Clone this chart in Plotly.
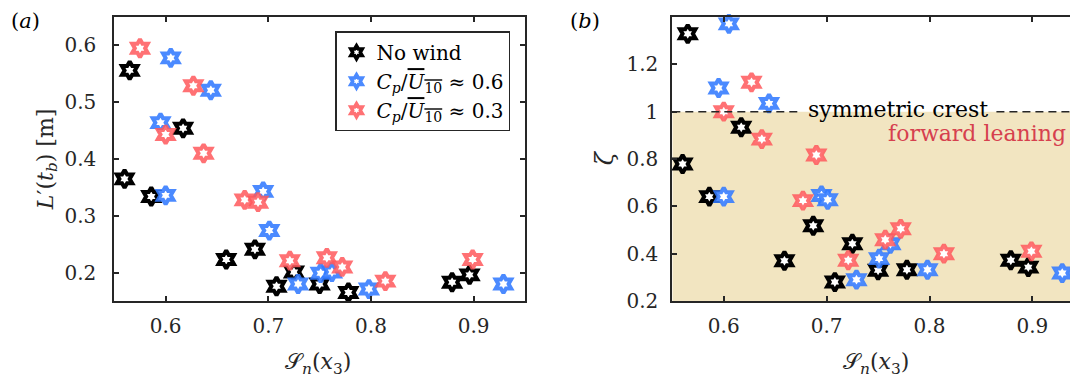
import plotly.graph_objects as go

# ---------------- data ----------------
sn_nowind = [0.565, 0.560, 0.586, 0.617, 0.659, 0.687, 0.708, 0.725, 0.750, 0.778, 0.879, 0.896]
L_nowind = [0.556, 0.365, 0.334, 0.454, 0.223, 0.241, 0.176, 0.201, 0.180, 0.165, 0.183, 0.196]
zeta_nowind = [1.329, 0.779, 0.641, 0.934, 0.370, 0.518, 0.280, 0.442, 0.330, 0.332, 0.372, 0.343]

sn_06 = [0.605, 0.644, 0.595, 0.600, 0.695, 0.701, 0.729, 0.751, 0.762, 0.798, 0.929]
L_06 = [0.578, 0.521, 0.464, 0.336, 0.343, 0.274, 0.180, 0.199, 0.201, 0.171, 0.180]
zeta_06 = [1.371, 1.035, 1.100, 0.641, 0.646, 0.628, 0.290, 0.379, 0.442, 0.332, 0.318]

sn_03 = [0.575, 0.627, 0.600, 0.637, 0.677, 0.690, 0.721, 0.757, 0.772, 0.814, 0.899]
L_03 = [0.595, 0.529, 0.443, 0.410, 0.328, 0.324, 0.221, 0.226, 0.210, 0.185, 0.223]
zeta_03 = [None, 1.124, 1.000, 0.884, 0.624, 0.817, 0.372, 0.459, 0.505, 0.400, 0.410]

series_names = ["No wind",
                "<i>C<sub>p</sub></i>/<span style='text-decoration:overline'><i>U</i><sub>10</sub></span> ≈ 0.6",
                "<i>C<sub>p</sub></i>/<span style='text-decoration:overline'><i>U</i><sub>10</sub></span> ≈ 0.3"]
series_colors = ["#000000", "rgba(50,122,255,0.88)", "rgba(255,88,92,0.85)"]

x_ticks = [0.6, 0.7, 0.8, 0.9]
L_ticks = [0.2, 0.3, 0.4, 0.5, 0.6]
zeta_ticks = [0.2, 0.4, 0.6, 0.8, 1.0, 1.2]
zeta_tick_labels = ["0.2", "0.4", "0.6", "0.8", "1", "1.2"]
symmetric_zeta = 1.0

# ---------------- geometry (screen px; page body has an 8px offset) ----------------
OFF = 8
W, H = 1078 - OFF, 383 - OFF
T = 16.7 - OFF
B = H - (301 - OFF)
PH = H - T - B
FONT = "DejaVu Serif"
AX = "#262626"


def px(sx):
    return (sx - OFF) / W


def py(sy):
    return 1 - (sy - OFF - T) / PH


fig = go.Figure()

groups = [(sn_nowind, L_nowind, zeta_nowind), (sn_06, L_06, zeta_06), (sn_03, L_03, zeta_03)]
for (sx, ly, zy), col in zip(groups, series_colors):
    mk = dict(symbol="hexagram", size=13.5, color="white", line=dict(color=col, width=4))
    fig.add_trace(go.Scatter(x=sx, y=ly, mode="markers", marker=mk, showlegend=False,
                             cliponaxis=False, xaxis="x", yaxis="y"))
    fig.add_trace(go.Scatter(x=sx, y=zy, mode="markers", marker=mk, showlegend=False,
                             cliponaxis=False, xaxis="x2", yaxis="y2"))

# legend-only entries (smaller glyphs, like the reference legend)
for name, col in zip(series_names, series_colors):
    fig.add_trace(go.Scatter(x=[None], y=[None], mode="markers", name=name,
                             marker=dict(symbol="hexagram", size=10, color="white",
                                         line=dict(color=col, width=3.5)),
                             xaxis="x", yaxis="y"))

axis_common = dict(showgrid=False, zeroline=False, showline=True, linecolor=AX, linewidth=2,
                   ticks="inside", ticklen=5, tickwidth=1.5, tickcolor=AX,
                   tickfont=dict(family=FONT, size=20, color=AX))

fig.update_layout(
    width=W, height=H,
    margin=dict(l=0, r=0, t=T, b=B),
    paper_bgcolor="white", plot_bgcolor="white",
    font=dict(family=FONT, size=20, color=AX),
    xaxis=dict(domain=[px(114.3), px(525)], range=[0.55, 0.95], tickvals=x_ticks,
               ticktext=[f"{v:.1f}" for v in x_ticks], mirror="ticks",
               ticklabelstandoff=6, anchor="y", **axis_common),
    yaxis=dict(domain=[0, 1], range=[0.15, 0.65], tickvals=L_ticks,
               ticktext=[f"{v:.1f}" for v in L_ticks], mirror="ticks",
               ticklabelstandoff=12, anchor="x", **axis_common),
    xaxis2=dict(domain=[px(672.3), 1.0], range=[0.55, 0.9443], tickvals=x_ticks,
                ticktext=[f"{v:.1f}" for v in x_ticks], mirror="ticks",
                ticklabelstandoff=6, anchor="y2", **axis_common),
    yaxis2=dict(domain=[0, 1], range=[0.2, 1.4], tickvals=zeta_ticks,
                ticktext=zeta_tick_labels, mirror=False,
                ticklabelstandoff=8, anchor="x2", **axis_common),
    legend=dict(x=px(335), y=py(31), xanchor="left", yanchor="top",
                bgcolor="white", bordercolor=AX, borderwidth=1.5,
                font=dict(family=FONT, size=20, color="#000000"),
                tracegroupgap=0),
)

# shaded forward-leaning region and symmetric-crest line
fig.add_shape(type="rect", xref="x2", yref="y2", x0=0.55, x1=0.9443, y0=0.2, y1=symmetric_zeta,
              fillcolor="#F2E5C1", line=dict(width=0), layer="below")
for x0, x1 in [(0.55, 0.6745), (0.865, 0.9443)]:
    fig.add_shape(type="line", xref="x2", yref="y2", x0=x0, x1=x1, y0=symmetric_zeta, y1=symmetric_zeta,
                  line=dict(color=AX, width=1.5, dash="8px,5px"))

ann = [
    dict(text="symmetric crest", x=px(898), y=py(109), font=dict(size=22, color="#000000")),
    dict(text="forward leaning", x=px(1068.3), y=py(133.3), xanchor="right",
         font=dict(size=22, color="#D6404E")),
    dict(text="(<i>a</i>)", x=px(25.5), y=py(21), font=dict(size=21, color="#000000")),
    dict(text="(<i>b</i>)", x=px(584.6), y=py(21), font=dict(size=21, color="#000000")),
    dict(text="<i>L</i>′(<i>t<sub>b</sub></i>) [m]", x=px(47), y=py(159), textangle=-90,
         font=dict(size=22, color=AX)),
    dict(text="<i>ζ</i>", x=px(605), y=py(158), textangle=-90, font=dict(size=24, color=AX)),
    dict(text="𝒮<sub><i>n</i></sub>(<i>x</i><sub>3</sub>)", x=px(317.5), y=py(364),
         font=dict(size=22, color=AX)),
    dict(text="𝒮<sub><i>n</i></sub>(<i>x</i><sub>3</sub>)", x=px(876), y=py(364),
         font=dict(size=22, color=AX)),
]
for a in ann:
    base = dict(xref="paper", yref="paper", showarrow=False, xanchor="center", yanchor="middle")
    base.update(a)
    base["font"] = dict(family=FONT, **a["font"])
    fig.add_annotation(**base)

fig.write_html("out.html")
